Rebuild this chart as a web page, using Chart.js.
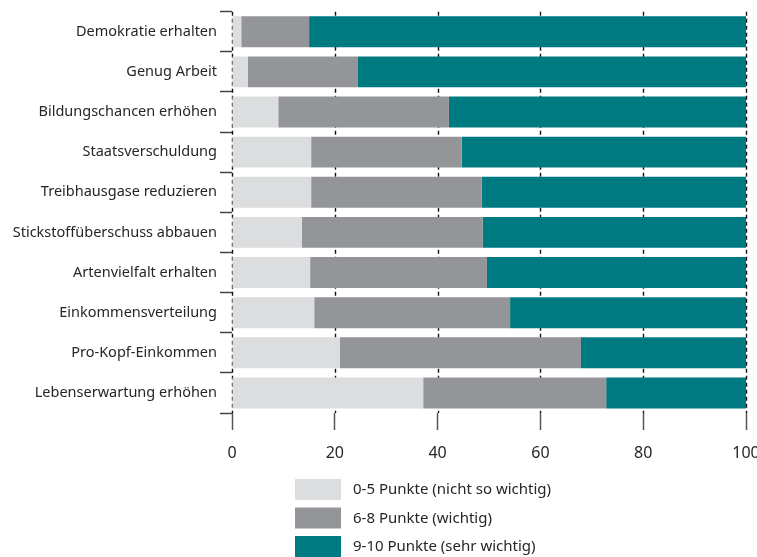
<!DOCTYPE html>
<html>
<head>
<meta charset="utf-8">
<script src="https://cdn.jsdelivr.net/npm/chart.js@4/dist/chart.umd.min.js"></script>
<style>
  html, body { margin: 0; padding: 0; background: #fff; }
  #wrap { width: 757px; height: 557px; }
</style>
</head>
<body>
<div id="wrap"><canvas id="myChart" width="757" height="557"></canvas></div>
<script>
const categories = [
  "Demokratie erhalten",
  "Genug Arbeit",
  "Bildungschancen erhöhen",
  "Staatsverschuldung",
  "Treibhausgase reduzieren",
  "Stickstoffüberschuss abbauen",
  "Artenvielfalt erhalten",
  "Einkommensverteilung",
  "Pro-Kopf-Einkommen",
  "Lebenserwartung erhöhen",
];
const lowValues = [1.8, 3.1, 9.0, 15.4, 15.4, 13.6, 15.2, 16.0, 21.0, 37.2];
const midValues = [13.2, 21.4, 33.2, 29.3, 33.2, 35.2, 34.4, 38.1, 46.9, 35.6];
const highValues = [85.0, 75.5, 57.8, 55.3, 51.4, 51.2, 50.4, 45.9, 32.1, 27.2];
const seriesLabels = [
  "0-5 Punkte (nicht so wichtig)",
  "6-8 Punkte (wichtig)",
  "9-10 Punkte (sehr wichtig)",
];
const xTicks = [0, 20, 40, 60, 80, 100];

const FONT = "'Noto Sans', sans-serif";
const TEXT = "#262626";

// dashed vertical lines behind the bars
const dashedGrid = {
  id: "dashedGrid",
  beforeDatasetsDraw(chart) {
    const c = chart.ctx;
    const x = chart.scales.x;
    const area = chart.chartArea;
    c.save();
    c.strokeStyle = "#111";
    c.lineWidth = 1.4;
    c.setLineDash([4, 3]);
    xTicks.forEach((v) => {
      const px = Math.round(x.getPixelForValue(v)) + 0.5;
      c.beginPath();
      c.moveTo(px, area.top);
      c.lineTo(px, area.bottom);
      c.stroke();
    });
    c.restore();
  },
};

// legend stacked vertically under the axis
const stackedLegend = {
  id: "stackedLegend",
  afterDraw(chart) {
    const c = chart.ctx;
    c.save();
    c.font = "15px " + FONT;
    c.textBaseline = "middle";
    chart.data.datasets.forEach((ds, i) => {
      const top = 479 + i * 28.5;
      c.fillStyle = ds.backgroundColor;
      c.fillRect(295, top, 46, 21);
      c.fillStyle = TEXT;
      c.fillText(ds.label, 353, top + 11);
    });
    c.restore();
  },
};

const ctx = document.getElementById("myChart").getContext("2d");

new Chart(ctx, {
  type: "bar",
  data: {
    labels: categories,
    datasets: [
      { label: seriesLabels[0], data: lowValues, backgroundColor: "#dcddde" },
      { label: seriesLabels[1], data: midValues, backgroundColor: "#939598" },
      { label: seriesLabels[2], data: highValues, backgroundColor: "#007a81" },
    ],
  },
  options: {
    indexAxis: "y",
    responsive: false,
    animation: false,
    barPercentage: 0.77,
    categoryPercentage: 1,
    borderWidth: 0,
    layout: { padding: { top: 11, right: 11, left: 0, bottom: 0 } },
    plugins: {
      legend: { display: false },
      tooltip: { enabled: false },
    },
    scales: {
      x: {
        stacked: true,
        min: 0,
        max: 100,
        afterBuildTicks: (scale) => {
          scale.ticks = xTicks.map((v) => ({ value: v }));
        },
        afterFit: (scale) => {
          scale.height = 144;
          scale.paddingRight = 0;
        },
        border: { display: false },
        grid: {
          drawOnChartArea: false,
          tickColor: "#555",
          tickWidth: 1.5,
          tickLength: 17,
        },
        ticks: {
          color: TEXT,
          padding: 14,
          font: { family: FONT, size: 16 },
        },
      },
      y: {
        stacked: true,
        afterFit: (scale) => {
          scale.width = 232;
        },
        border: { display: false },
        grid: {
          drawOnChartArea: false,
          tickColor: "#444",
          tickWidth: 1.5,
          tickLength: 12,
        },
        ticks: {
          color: TEXT,
          padding: 3,
          font: { family: FONT, size: 14.5 },
        },
      },
    },
  },
  plugins: [dashedGrid, stackedLegend],
});
</script>
</body>
</html>
